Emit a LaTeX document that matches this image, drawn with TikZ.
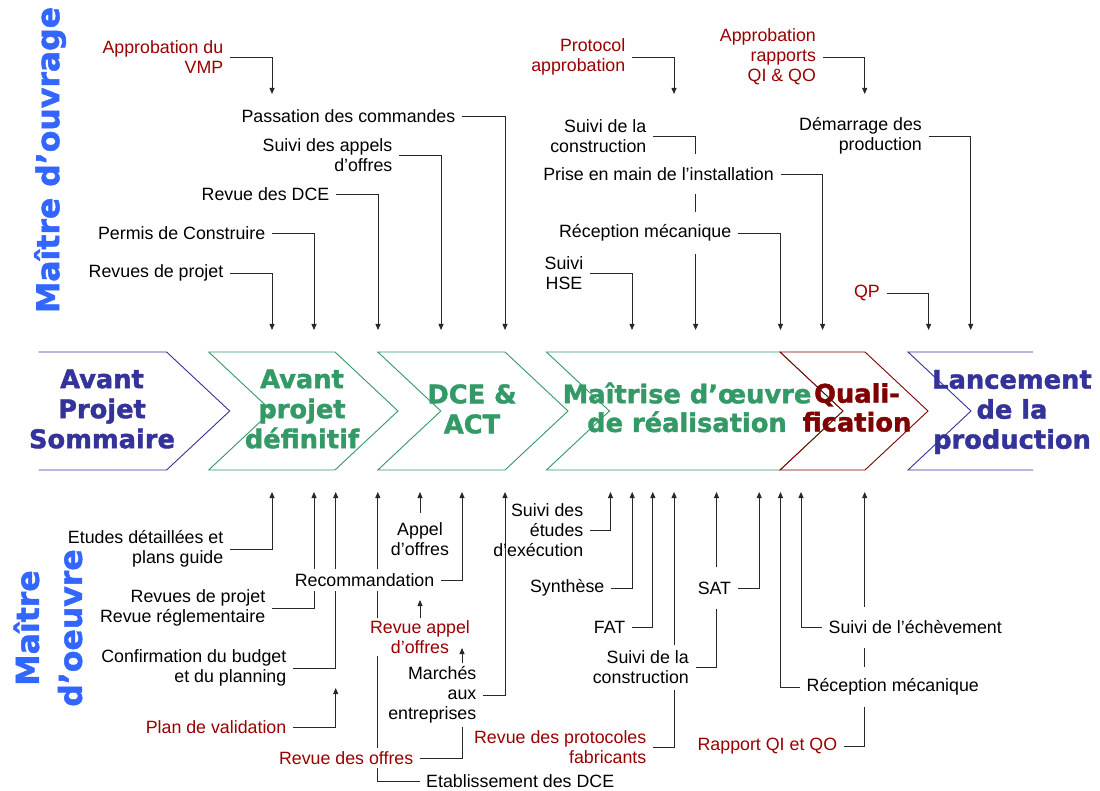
\documentclass[tikz,border=0pt]{standalone}
\usepackage{fontspec}
\setmainfont{Liberation Sans}
\newfontfamily\heavyfont{DejaVu Sans}[BoldFeatures={FakeBold=1.5}]
\usetikzlibrary{arrows.meta}
\definecolor{navy}{RGB}{51,51,153}
\definecolor{grn}{RGB}{51,153,102}
\definecolor{qred}{RGB}{128,0,0}
\definecolor{lred}{RGB}{153,0,0}
\definecolor{brblue}{RGB}{51,102,255}
\definecolor{ln}{RGB}{40,40,40}
\pgfdeclarelayer{bg}
\pgfsetlayers{bg,main}
\tikzset{
  lbl/.style={font=\fontsize{17.8}{20}\selectfont, inner xsep=6.5pt, inner ysep=3pt, text=black},
  rlbl/.style={lbl, text=lred},
  mask/.style={fill=white},
  big/.style={font=\heavyfont\bfseries\fontsize{25.7}{30}\selectfont, align=center},
  bigb/.style={font=\heavyfont\bfseries\fontsize{25.7}{28.7}\selectfont, align=center},
  side/.style={font=\heavyfont\bfseries\fontsize{31.5}{43}\selectfont, text=brblue, align=center, rotate=90},
  conn/.style={draw=ln, line width=0.8pt},
  arr/.style={conn, -{Triangle[length=6pt,width=5pt]}},
  chev/.style={line width=0.9pt}
}
\begin{document}
\begin{tikzpicture}[x=1pt,y=-1pt]
\useasboundingbox (0,0) rectangle (1100,791);

% side titles
\node[side] (mo) at (50,160) {Maître d’ouvrage};
\node[side] (moe) at (48,628) {Maître\\d’oeuvre};

% chevron labels
\node[big, text=navy] (aps) at (102,409) {Avant\\Projet\\Sommaire};
\node[big, text=grn] (apd) at (302,409) {Avant\\projet\\définitif};
\node[big, text=grn] (dce) at (472,409) {DCE \&\\ACT};
\node[bigb, text=grn] (moer) at (687,407.5) {Maîtrise d’œuvre\\de réalisation};
\node[bigb, text=qred] (qual) at (857,407.5) {Quali-\\fication};
\node[big, text=navy] (lanc) at (1012,412) {Lancement\\de la\\production};

% top labels
\node[rlbl, align=right, anchor=east] (vmp) at (230,57) {Approbation du\\VMP};
\node[lbl, anchor=east] (pdc) at (462,116) {Passation des commandes};
\node[lbl, align=right, anchor=east] (sao) at (399,155) {Suivi des appels\\d’offres};
\node[lbl, anchor=east] (rdce) at (336,194) {Revue des DCE};
\node[lbl, anchor=east] (pcons) at (272,233) {Permis de Construire};
\node[lbl, anchor=east] (rdp) at (230,273) {Revues de projet};
\node[rlbl, align=right, anchor=east] (proto) at (632,57) {Protocol\\approbation};
\node[rlbl, align=right, anchor=east] (aqi) at (822.6,57) {Approbation\\rapports\\QI \& QO};
\node[lbl, align=right, anchor=east] (sdlc) at (653,136) {Suivi de la\\construction};
\node[lbl, mask, minimum height=40pt, anchor=east] (pmi) at (780.5,174) {Prise en main de l’installation};
\node[lbl, mask, minimum height=42pt, anchor=east] (recm) at (738,233) {Réception mécanique};
\node[lbl, align=center, anchor=east] (hse) at (590,273) {Suivi\\HSE};
\node[rlbl, anchor=east] (qp) at (886.5,293) {QP};
\node[lbl, align=right, anchor=east] (dem) at (928.6,136) {Démarrage des\\production};

% bottom labels
\node[lbl, align=right, anchor=east] (edpg) at (230,549) {Etudes détaillées et\\plans guide};
\node[lbl, align=right, anchor=east] (rdpr) at (272,608) {Revues de projet\\Revue réglementaire};
\node[lbl, align=right, anchor=east] (cbp) at (293,668) {Confirmation du budget\\et du planning};
\node[rlbl, anchor=east] (pdv) at (293,727) {Plan de validation};
\node[lbl, mask, minimum height=22pt, anchor=east] (reco) at (441,580) {Recommandation};
\node[lbl, align=center, inner ysep=10pt] (ao) at (420,539.5) {Appel\\d’offres};
\node[rlbl, mask, align=center, inner ysep=2.6pt] (rao) at (420,637) {Revue appel\\d’offres};
\node[lbl, align=right, anchor=east] (marche) at (483,695) {Marchés\\aux\\entreprises};
\node[rlbl, mask, anchor=east] (rdo) at (420,758) {Revue des offres};
\node[lbl, anchor=west] (edce) at (419.5,781) {Etablissement des DCE};
\node[lbl, align=right, anchor=east] (sde) at (590,530) {Suivi des\\études\\d’exécution};
\node[lbl, anchor=east] (syn) at (611,588) {Synthèse};
\node[lbl, anchor=east] (fat) at (632,627) {FAT};
\node[lbl, mask, align=right, minimum height=45pt, anchor=east] (sdlc2) at (695.5,667) {Suivi de la\\construction};
\node[lbl, mask, minimum height=42pt, anchor=east] (sat) at (737.8,588) {SAT};
\node[rlbl, align=right, anchor=east] (rpf) at (653,747) {Revue des protocoles\\fabricants};
\node[lbl, mask, minimum height=41pt, anchor=west] (ech) at (822,627) {Suivi de l’échèvement};
\node[lbl, mask, minimum height=40pt, anchor=west] (recm2) at (800,687) {Réception mécanique};
\node[rlbl, anchor=east] (rqi) at (843.8,746) {Rapport QI et QO};

% end points
\coordinate (tvmp) at (272,94);
\coordinate (tpdc) at (505,330);
\coordinate (tsao) at (441,330);
\coordinate (trdce) at (378,330);
\coordinate (tpcons) at (314,330);
\coordinate (trdp) at (272,330);
\coordinate (tproto) at (674,94);
\coordinate (taqi) at (864.7,94);
\coordinate (tsdlc) at (695.6,330);
\coordinate (tpmi) at (822.6,330);
\coordinate (trecm) at (780.5,330);
\coordinate (thse) at (632,330);
\coordinate (tqp) at (928.6,330);
\coordinate (tdem) at (970.7,330);

\coordinate (bedpg) at (272,492);
\coordinate (brdpr) at (314,492);
\coordinate (bcbp) at (335.7,492);
\coordinate (bpdv) at (335.7,688);
\coordinate (breco) at (462,492);
\coordinate (bao) at (420,492);
\coordinate (brao) at (420,600);
\coordinate (bmarche) at (505,492);
\coordinate (bmx) at (462,648);
\coordinate (bedce) at (377.8,492);
\coordinate (bsde) at (610.5,492);
\coordinate (bsyn) at (632.2,492);
\coordinate (bfat) at (652.8,492);
\coordinate (bsdlc) at (716.5,492);
\coordinate (bsat) at (759.2,492);
\coordinate (brpf) at (674.1,492);
\coordinate (bech) at (801,492);
\coordinate (brecm) at (780.5,492);
\coordinate (brqi) at (864.7,492);

\begin{pgfonlayer}{bg}
\fill[white] (0,0) rectangle (1100,791);
% chevrons
\draw[chev, navy] (38.6,352) -- (166.6,352) -- (229.7,411) -- (166.6,470) -- (38.6,470);
\draw[chev, grn] (208.7,352) -- (335,352) -- (398,411) -- (335,470) -- (208.7,470) -- (271.7,411) -- cycle;
\draw[chev, grn] (377.8,352) -- (505,352) -- (568,411) -- (505,470) -- (377.8,470) -- (440.8,411) -- cycle;
\draw[chev, grn] (546.4,352) -- (780,352) -- (843,411) -- (780,470) -- (546.4,470) -- (609.4,411) -- cycle;
\draw[chev, qred] (780,352) -- (865,352) -- (928,411) -- (865,470) -- (780,470) -- (843,411) -- cycle;
\draw[chev, navy] (1033,352) -- (908,352) -- (971,411) -- (908,470) -- (1033,470);

% top connectors
\draw[arr] (vmp.east) -| (tvmp);
\draw[arr] (pdc.east) -| (tpdc);
\draw[arr] (sao.east) -| (tsao);
\draw[arr] (rdce.east) -| (trdce);
\draw[arr] (pcons.east) -| (tpcons);
\draw[arr] (rdp.east) -| (trdp);
\draw[arr] (proto.east) -| (tproto);
\draw[arr] (aqi.east) -| (taqi);
\draw[arr] (sdlc.east) -| (tsdlc);
\draw[arr] (pmi.east) -| (tpmi);
\draw[arr] (recm.east) -| (trecm);
\draw[arr] (hse.east) -| (thse);
\draw[arr] (qp.east) -| (tqp);
\draw[arr] (dem.east) -| (tdem);

% bottom connectors
\draw[arr] (edpg.east) -| (bedpg);
\draw[arr] (rdpr.east) -| (brdpr);
\draw[arr] (cbp.east) -| (bcbp);
\draw[arr] (pdv.east) -| (bpdv);
\draw[arr] (reco.east) -| (breco);
\draw[arr] (ao.north) -- (bao);
\draw[arr] (rao.north) -- (brao);
\draw[arr] (marche.east) -| (bmarche);
\draw[conn] (rdo.east) -| (marche.south -| bmx);
\draw[arr] (edce.west) -| (bedce);
\draw[arr] (sde.east) -| (bsde);
\draw[arr] (syn.east) -| (bsyn);
\draw[arr] (fat.east) -| (bfat);
\draw[arr] (sdlc2.east) -| (bsdlc);
\draw[arr] (sat.east) -| (bsat);
\draw[arr] (rpf.east) -| (brpf);
\draw[arr] (ech.west) -| (bech);
\draw[arr] (recm2.west) -| (brecm);
\draw[arr] (rqi.east) -| (brqi);
\end{pgfonlayer}
\draw[arr] (marche.north -| bmx) -- (bmx);
\end{tikzpicture}
\end{document}
